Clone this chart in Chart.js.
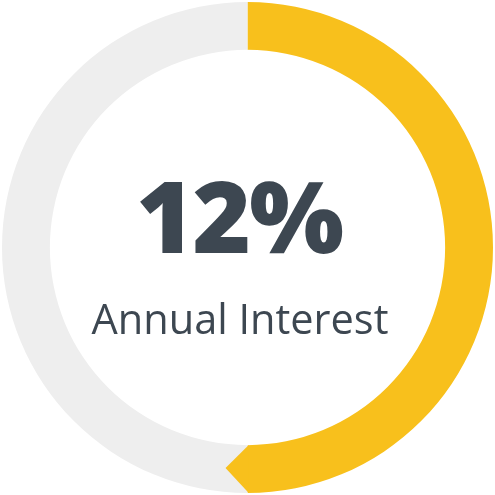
<!DOCTYPE html>
<html>
<head>
<meta charset="utf-8">
<script src="https://cdn.jsdelivr.net/npm/chart.js@4"></script>
<style>
  html, body { margin: 0; padding: 0; background: #fff; }
  .wrap { position: relative; width: 495px; height: 495px; }
  .center { position: absolute; left: 0; width: 480px; text-align: center; color: #3d4751; font-family: "Open Sans", "Noto Sans", sans-serif; }
  .big { top: 154px; width: 478px; font-size: 100px; font-weight: 800; letter-spacing: -2px; line-height: 120px; }
  .sub { top: 290px; font-size: 41.5px; font-weight: 400; line-height: 56px; }
</style>
</head>
<body>
<div class="wrap">
  <canvas id="c" width="495" height="495"></canvas>
  <div class="center big" id="big">12%</div>
  <div class="center sub" id="sub">Annual Interest</div>
</div>
<script>
// Ring segments: filled arc (yellow) and the rest of the track (grey)
const segmentLabels = ["Filled", "Track"];
const segmentValues = [50, 50];
const segmentColors = ["#f8c01c", "#eeeeee"];
const headline = "12%";
const caption = "Annual Interest";

// Chevron tip at the end of the filled arc
const arrowTip = {
  id: "arrowTip",
  afterDatasetsDraw(chart) {
    const arc = chart.getDatasetMeta(0).data[0];
    if (!arc) return;
    const { x, y, endAngle, innerRadius, outerRadius } = arc.getProps(["x", "y", "endAngle", "innerRadius", "outerRadius"]);
    const mid = (innerRadius + outerRadius) / 2;
    const tipAngle = endAngle + 22 / mid;
    const ctx = chart.ctx;
    ctx.save();
    ctx.fillStyle = segmentColors[0];
    ctx.beginPath();
    ctx.moveTo(x + Math.cos(endAngle - 0.005) * outerRadius, y + Math.sin(endAngle - 0.005) * outerRadius);
    ctx.lineTo(x + Math.cos(tipAngle) * mid, y + Math.sin(tipAngle) * mid);
    ctx.lineTo(x + Math.cos(endAngle - 0.005) * innerRadius, y + Math.sin(endAngle - 0.005) * innerRadius);
    ctx.closePath();
    ctx.fill();
    ctx.restore();
  },
};

document.getElementById("big").textContent = headline;
document.getElementById("sub").textContent = caption;

new Chart(document.getElementById("c"), {
  type: "doughnut",
  data: {
    labels: segmentLabels,
    datasets: [{
      data: segmentValues,
      backgroundColor: segmentColors,
      borderWidth: 0,
    }],
  },
  options: {
    responsive: false,
    animation: false,
    cutout: "80.5%",
    layout: { padding: 2 },
    plugins: { legend: { display: false }, tooltip: { enabled: false } },
  },
  plugins: [arrowTip],
});
</script>
</body>
</html>
